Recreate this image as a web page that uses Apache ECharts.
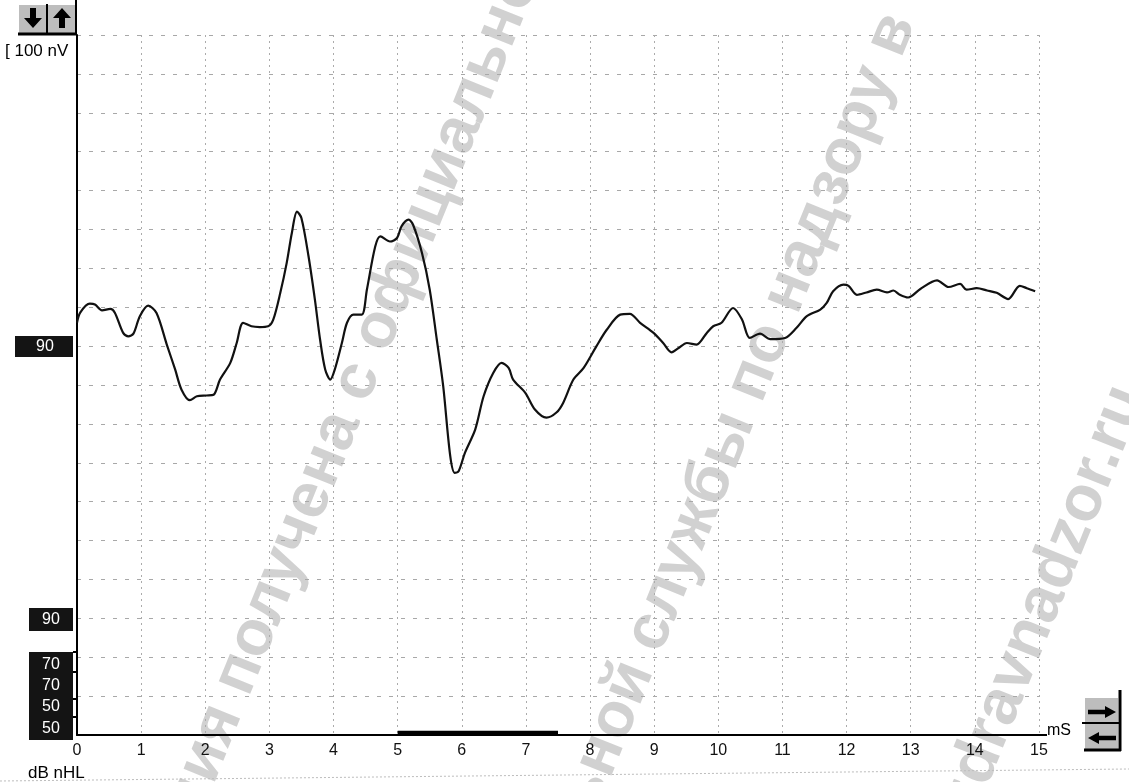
<!DOCTYPE html>
<html>
<head>
<meta charset="utf-8">
<title>ABR waveform</title>
<script src="https://cdn.jsdelivr.net/npm/echarts@6/dist/echarts.min.js"></script>
<style>
html,body{margin:0;padding:0;background:#fff;}
#chart{width:1129px;height:782px;}
</style>
</head>
<body>
<div id="chart"></div>
<script>
// ---- data (time in ms, amplitude in grid divisions relative to the trace baseline) ----
const timeMs = [0.00,0.05,0.20,0.28,0.39,0.52,0.59,0.72,0.80,0.88,
  0.98,1.11,1.24,1.40,1.53,1.63,1.76,1.87,2.02,2.13,
  2.23,2.39,2.49,2.59,2.72,2.85,2.98,3.06,3.17,3.27,
  3.35,3.43,3.50,3.61,3.71,3.79,3.87,3.95,4.02,4.13,
  4.21,4.31,4.44,4.52,4.65,4.73,4.88,4.99,5.06,5.17,
  5.24,5.38,5.50,5.61,5.71,5.82,5.89,5.95,6.05,6.21,
  6.34,6.49,6.62,6.73,6.80,6.99,7.14,7.32,7.48,7.58,
  7.74,7.90,8.10,8.26,8.47,8.62,8.78,8.99,9.14,9.27,
  9.38,9.51,9.66,9.82,9.92,10.05,10.23,10.37,10.49,10.65,
  10.81,11.04,11.22,11.38,11.59,11.69,11.79,11.95,12.03,12.16,
  12.31,12.47,12.63,12.73,12.83,12.96,13.15,13.41,13.59,13.77,
  13.87,14.03,14.19,14.34,14.52,14.70,14.81,14.94];
const amplitude = [0.60,0.86,1.09,1.07,0.92,0.96,0.86,0.34,0.25,0.32,
  0.77,1.04,0.85,0.04,-0.60,-1.12,-1.39,-1.29,-1.27,-1.25,
  -0.86,-0.43,0.08,0.60,0.51,0.49,0.51,0.68,1.37,2.14,
  2.91,3.46,3.29,2.31,1.19,0.17,-0.60,-0.86,-0.60,0.08,
  0.60,0.81,0.81,1.45,2.56,2.82,2.69,2.78,3.08,3.25,
  3.12,2.39,1.45,0.17,-1.03,-2.83,-3.26,-3.22,-2.74,-2.14,
  -1.29,-0.69,-0.43,-0.56,-0.86,-1.20,-1.63,-1.84,-1.70,-1.46,
  -0.86,-0.56,0.00,0.42,0.81,0.83,0.60,0.34,0.08,-0.16,
  -0.05,0.08,0.04,0.34,0.51,0.60,0.98,0.68,0.21,0.32,
  0.18,0.21,0.47,0.77,0.94,1.11,1.41,1.58,1.55,1.32,
  1.38,1.45,1.38,1.43,1.32,1.25,1.47,1.69,1.52,1.60,
  1.45,1.49,1.43,1.37,1.21,1.55,1.49,1.41];
const markerRange = [5.0, 7.5];          // bold analysis window on the time axis
const xTicks = {min: 0, max: 15, interval: 1};
const yTicks = {min: -10, max: 8, interval: 1};
const scaleLabel = '[ 100 nV';
const traceLevel = '90';
const levelLabels = ['90', '70', '70', '50', '50'];
const xUnit = 'mS';
const yUnit = 'dB nHL';
const watermark = [
  ['Информация получена с', 'официального сайта'],
  ['Федеральной службы', 'по надзору в сфере здравоохранения'],
  ['www.roszdrav', 'nadzor.ru']
];

// ---- helpers for decorations ----
const FONT = '"Liberation Sans", Arial, sans-serif';
function txt(x, y, text, size, color, align, weight, z) {
  return {type: 'text', x: x, y: y, z: z || 10, silent: true,
    style: {text: text, fill: color, font: (weight || 'normal') + ' ' + size + 'px ' + FONT,
      textAlign: align || 'left', textVerticalAlign: 'middle', verticalAlign: 'middle'}};
}
function rect(x, y, w, h, fill, z) {
  return {type: 'rect', z: z || 5, silent: true, shape: {x: x, y: y, width: w, height: h}, style: {fill: fill}};
}
function seg(x1, y1, x2, y2, w, color, dash) {
  return {type: 'line', z: 6, silent: true, shape: {x1: x1, y1: y1, x2: x2, y2: y2},
    style: {stroke: color || '#000', lineWidth: w || 2, lineDash: dash || null}};
}
function arrow(cx, cy, ang, len, head, shaft, headLen) {
  const L = len / 2;
  const base = [[-L, -shaft], [L - headLen, -shaft], [L - headLen, -head], [L, 0],
                [L - headLen, head], [L - headLen, shaft], [-L, shaft]];
  const c = Math.cos(ang), s = Math.sin(ang);
  const pts = base.map(p => [cx + p[0] * c - p[1] * s, cy + p[0] * s + p[1] * c]);
  return {type: 'polygon', z: 7, silent: true, shape: {points: pts}, style: {fill: '#000'}};
}
const WM_ROT = 68 * Math.PI / 180;
const WM_FILL = 'rgba(105,105,105,0.31)';
function wm(x, y, text, align) {
  return {type: 'text', x: x, y: y, rotation: WM_ROT, z: -1, silent: true,
    style: {text: text, fill: WM_FILL, font: 'bold 64px ' + FONT,
      textAlign: align, textVerticalAlign: 'middle', verticalAlign: 'middle'}};
}

const graphics = [
  // watermark
  wm(364, 365, watermark[0][0], 'right'), wm(371, 348, watermark[0][1], 'left'),
  wm(738, 415, watermark[1][0], 'right'), wm(745, 398, watermark[1][1], 'left'),
  wm(1021, 656, watermark[2][0], 'right'), wm(1021, 656, watermark[2][1], 'left'),
  // top-left scale buttons
  rect(19, 5, 28, 28, '#bdbdbd'), rect(48, 5, 27, 28, '#bdbdbd'),
  seg(18, 34, 77, 34, 3), seg(47, 4, 47, 34, 2), seg(76, 0, 76, 35, 2),
  arrow(33, 18, Math.PI / 2, 20, 9, 3, 10), arrow(62, 18, -Math.PI / 2, 20, 9, 3, 10),
  txt(5, 51, scaleLabel, 17, '#000', 'left'),
  // level boxes
  rect(15, 336, 58, 21, '#141414'), txt(45, 347, traceLevel, 16, '#fff', 'center'),
  rect(29, 608, 44, 23, '#141414'), txt(51, 620, levelLabels[0], 16, '#fff', 'center'),
  rect(29, 652, 44, 88, '#141414'),
  txt(51, 665, levelLabels[1], 16, '#fff', 'center'),
  txt(51, 686, levelLabels[2], 16, '#fff', 'center'),
  txt(51, 707, levelLabels[3], 16, '#fff', 'center'),
  txt(51, 729, levelLabels[4], 16, '#fff', 'center'),
  seg(73, 652, 78, 652, 2), seg(73, 672, 78, 672, 2), seg(73, 699, 78, 699, 2), seg(73, 717, 78, 717, 2),
  txt(28, 773, yUnit, 17, '#000', 'left'),
  // x unit and axis extension
  seg(1039, 735, 1047, 735, 2),
  txt(1047, 731, xUnit, 16, '#000', 'left'),
  // right buttons
  rect(1085, 698, 33, 25, '#bdbdbd'), rect(1085, 724, 33, 25, '#bdbdbd'),
  seg(1082, 723, 1121, 723, 2), seg(1120, 690, 1120, 751, 3), seg(1084, 750, 1121, 750, 3),
  arrow(1102, 712, 0, 28, 6, 2.2, 11), arrow(1102, 738, Math.PI, 28, 6, 2.2, 11),
  // scan edge
  seg(0, 781, 1129, 769, 1, '#bdbdbd', [2, 2])
];

const chart = echarts.init(document.getElementById('chart'), null, {renderer: 'canvas'});
chart.setOption({
  backgroundColor: '#ffffff',
  animation: false,
  grid: {left: 77, right: 90, top: 35, bottom: 47, containLabel: false},
  xAxis: {
    type: 'value', min: xTicks.min, max: xTicks.max, interval: xTicks.interval,
    axisLine: {show: true, onZero: false, lineStyle: {color: '#000', width: 2}},
    axisTick: {show: false},
    axisLabel: {show: true, color: '#111', fontSize: 16, fontFamily: FONT, margin: 8},
    splitLine: {show: true, lineStyle: {color: '#ababab', width: 1, type: [2, 4]}}
  },
  yAxis: {
    type: 'value', min: yTicks.min, max: yTicks.max, interval: yTicks.interval,
    axisLine: {show: true, onZero: false, lineStyle: {color: '#000', width: 2}},
    axisTick: {show: false},
    axisLabel: {show: false},
    splitLine: {show: true, lineStyle: {color: '#a8a8a8', width: 1, type: [4, 8]}}
  },
  series: [
    {
      name: 'trace', type: 'line', z: 5,
      data: timeMs.map((t, i) => [t, amplitude[i]]),
      smooth: 0.3, symbol: 'none',
      lineStyle: {color: '#111', width: 2.2}
    },
    {
      name: 'window', type: 'line', z: 6, clip: false,
      data: markerRange.map(t => [t, yTicks.min + 0.05]),
      symbol: 'none',
      lineStyle: {color: '#000', width: 4.5}
    }
  ],
  graphic: graphics
});
</script>
</body>
</html>
